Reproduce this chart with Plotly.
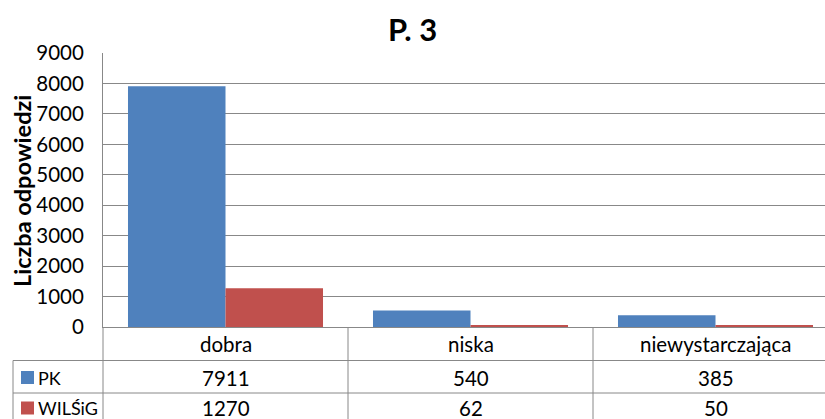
import plotly.graph_objects as go

categories = ["dobra", "niska", "niewystarczająca"]
series_names = ["PK", "WILŚiG"]
pk_values = [7911, 540, 385]
wilsig_values = [1270, 62, 50]
y_ticks = [0, 1000, 2000, 3000, 4000, 5000, 6000, 7000, 8000, 9000]
colors = ["#4F81BD", "#C0504D"]

W, H = 825, 419
FONT = "Lato, Carlito, 'Liberation Sans', sans-serif"
GRID = "#888888"
TXT = 20.5

def px(x):
    return x / W

def py(y):
    return (H - y) / H

fig = go.Figure()
for name, vals, col in zip(series_names, [pk_values, wilsig_values], colors):
    fig.add_trace(go.Bar(x=categories, y=vals, name=name, marker_color=col,
                         marker_line_width=0, showlegend=False))

plot_left, plot_top, plot_bottom = 103, 53, 327
cat_w = 245
x_hi = -0.5 + (W - plot_left) / cat_w

fig.update_layout(
    width=W, height=H,
    margin=dict(l=0, r=0, t=0, b=0, autoexpand=False),
    paper_bgcolor="white", plot_bgcolor="white",
    barmode="group", bargap=0.204, bargroupgap=0,
    font=dict(family=FONT, size=TXT, color="black"),
    xaxis=dict(domain=[px(plot_left), 1], range=[-0.5, x_hi], showticklabels=False,
               showgrid=False, showline=True, linecolor=GRID, linewidth=1, ticks="",
               automargin=False, fixedrange=True),
    yaxis=dict(domain=[py(plot_bottom), py(plot_top)], range=[0, 9000], tickvals=y_ticks,
               showgrid=True, gridcolor=GRID, gridwidth=1, showline=True, linecolor=GRID,
               linewidth=1, ticks="", zeroline=False, ticklabelstandoff=14,
               automargin=False, fixedrange=True,
               tickfont=dict(family=FONT, size=TXT, color="black")),
)

# data table lines
line = dict(color=GRID, width=1)
shapes = []
row_lines = [360.5, 393]
for y in row_lines:
    shapes.append(dict(type="line", xref="paper", yref="paper", x0=px(13), x1=1,
                       y0=py(y), y1=py(y), line=line))
for i in range(len(categories)):
    xl = plot_left + cat_w * i
    shapes.append(dict(type="line", xref="paper", yref="paper", x0=px(xl), x1=px(xl),
                       y0=py(plot_bottom), y1=0, line=line))
shapes.append(dict(type="line", xref="paper", yref="paper", x0=px(13), x1=px(13),
                   y0=py(360.5), y1=0, line=line))
# legend keys
row_centers = [377.5, 408]
for rc, col in zip(row_centers, colors):
    shapes.append(dict(type="rect", xref="paper", yref="paper", x0=px(21), x1=px(34),
                       y0=py(rc + 6.5), y1=py(rc - 6.5), fillcolor=col, line=dict(width=0)))
fig.update_layout(shapes=shapes)

ann = []
# title
ann.append(dict(x=px(412), y=py(29), xref="paper", yref="paper", text="<b>P. 3</b>",
                showarrow=False, xanchor="center", yanchor="middle",
                font=dict(family=FONT, size=31, color="black")))
# y-axis title
ann.append(dict(x=px(22), y=py(191), xref="paper", yref="paper",
                text="<b>Liczba odpowiedzi</b>", textangle=-90, showarrow=False,
                xanchor="center", yanchor="middle",
                font=dict(family=FONT, size=23.5, color="black")))
for c in categories:
    ann.append(dict(x=c, y=py(344), xref="x", yref="paper", text=c, showarrow=False,
                    font=dict(family=FONT, size=TXT, color="black"), xanchor="center",
                    yanchor="middle"))
for rc, name, vals in zip(row_centers, series_names, [pk_values, wilsig_values]):
    ann.append(dict(x=px(36), y=py(rc), xref="paper", yref="paper", text=name,
                    showarrow=False, xanchor="left", yanchor="middle",
                    font=dict(family=FONT, size=18, color="black")))
    for c, v in zip(categories, vals):
        ann.append(dict(x=c, y=py(rc), xref="x", yref="paper", text=str(v), showarrow=False,
                        xanchor="center", yanchor="middle",
                        font=dict(family=FONT, size=TXT, color="black")))
fig.update_layout(annotations=ann)

fig.write_html("out.html", config={"displayModeBar": False},
               post_script="document.body.style.margin='0';"
                           "document.documentElement.style.overflow='hidden';")
